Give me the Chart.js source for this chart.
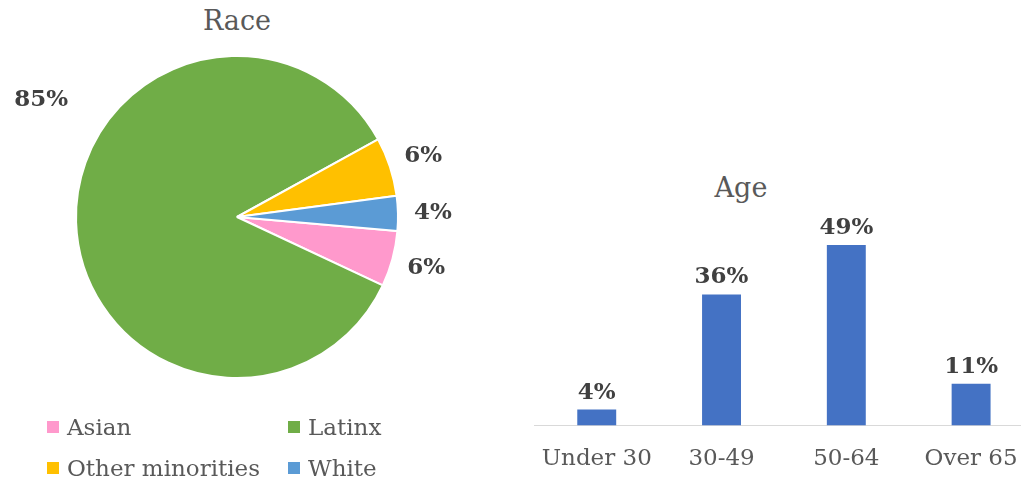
<!DOCTYPE html>
<html>
<head>
<meta charset="utf-8">
<script src="https://cdn.jsdelivr.net/npm/chart.js@4/dist/chart.umd.min.js"></script>
<style>
  html, body { margin: 0; padding: 0; background: #fff; }
  body { width: 1021px; height: 479px; position: relative; overflow: hidden; font-family: "DejaVu Serif", serif; }
  .title { position: absolute; font-size: 27px; line-height: 1; color: #595959; text-align: center; width: 200px; }
  #raceTitle { left: 137px; top: 7px; }
  #ageTitle { left: 641px; top: 174px; }
  #raceCanvas { position: absolute; left: 0; top: 0; }
  #ageCanvas { position: absolute; left: 520px; top: 162px; }
  #raceLegend { position: absolute; left: 47px; top: 406px; display: grid; grid-template-columns: 241px 241px; grid-auto-rows: 41px; }
  .item { display: flex; align-items: center; font-size: 23px; color: #595959; white-space: nowrap; }
  .swatch { width: 12px; height: 12px; margin-right: 8px; flex: none; }
</style>
</head>
<body>
<div class="title" id="raceTitle">Race</div>
<div class="title" id="ageTitle">Age</div>
<canvas id="raceCanvas" width="474" height="400"></canvas>
<canvas id="ageCanvas" width="520" height="331"></canvas>
<div id="raceLegend"></div>

<script>
/* =========================
   DATA
========================= */

const raceLabels = ["Asian", "Latinx", "Other minorities", "White"];
const raceValues = [5.6, 85.0, 5.9, 3.5];
const raceColors = ["#FF99CC", "#70AD47", "#FFC000", "#5B9BD5"];

const ageLabels = ["Under 30", "30-49", "50-64", "Over 65"];
const ageValues = [4.3, 35.5, 48.9, 11.3];
const ageColor = "#4472C4";

// Excel moved the big label off its slice ("best fit"), the rest sit just outside
const raceLabelShift = [0, 32.7, 0, 0];   // degrees
const raceLabelGap = [35, 67, 35, 35];    // px beyond radius

const FONT = "DejaVu Serif";
const LABEL_COLOR = "#404040";

/* =========================
   PIE LABELS
========================= */

const pieLabelPlugin = {
  id: "pieLabels",
  afterDatasetsDraw(chart) {
    const ctx = chart.ctx;
    const meta = chart.getDatasetMeta(0);
    ctx.save();
    ctx.font = "bold 23px '" + FONT + "'";
    ctx.fillStyle = LABEL_COLOR;
    ctx.textAlign = "center";
    ctx.textBaseline = "middle";
    meta.data.forEach((arc, i) => {
      const mid = (arc.startAngle + arc.endAngle) / 2 + raceLabelShift[i] * Math.PI / 180;
      const r = arc.outerRadius + raceLabelGap[i];
      const x = arc.x + Math.cos(mid) * r;
      const y = arc.y + Math.sin(mid) * r;
      ctx.fillText(Math.round(raceValues[i]) + "%", x, y);
    });
    ctx.restore();
  }
};

/* =========================
   BAR LABELS
========================= */

const barLabelPlugin = {
  id: "barLabels",
  afterDatasetsDraw(chart) {
    const ctx = chart.ctx;
    const meta = chart.getDatasetMeta(0);
    ctx.save();
    ctx.font = "bold 23px '" + FONT + "'";
    ctx.fillStyle = LABEL_COLOR;
    ctx.textAlign = "center";
    ctx.textBaseline = "middle";
    meta.data.forEach((bar, i) => {
      ctx.fillText(Math.round(ageValues[i]) + "%", bar.x, bar.y - 17);
    });
    ctx.restore();
  }
};

/* =========================
   CHARTS
========================= */

new Chart(document.getElementById("raceCanvas"), {
  type: "pie",
  data: {
    labels: raceLabels,
    datasets: [{
      data: raceValues,
      backgroundColor: raceColors,
      borderColor: "#ffffff",
      borderWidth: 2
    }]
  },
  options: {
    responsive: false,
    animation: false,
    rotation: 95,
    layout: { padding: { left: 75, right: 75, top: 55, bottom: 21 } },
    plugins: {
      legend: { display: false },
      tooltip: { enabled: false }
    }
  },
  plugins: [pieLabelPlugin]
});

new Chart(document.getElementById("ageCanvas"), {
  type: "bar",
  data: {
    labels: ageLabels,
    datasets: [{
      data: ageValues,
      backgroundColor: ageColor,
      categoryPercentage: 1,
      barPercentage: 0.312
    }]
  },
  options: {
    responsive: false,
    animation: false,
    layout: { padding: { left: 13.5, right: 6.5, top: 42, bottom: 0 } },
    scales: {
      x: {
        grid: { display: false, drawTicks: false },
        border: { display: true, color: "#d9d9d9", width: 1 },
        ticks: { color: "#595959", padding: 20, font: { family: FONT, size: 23 } }
      },
      y: { display: false, min: 0, max: 60 }
    },
    plugins: {
      legend: { display: false },
      tooltip: { enabled: false }
    }
  },
  plugins: [barLabelPlugin]
});

/* =========================
   LEGEND (html)
========================= */

const legend = document.getElementById("raceLegend");
raceLabels.forEach((name, i) => {
  const item = document.createElement("div");
  item.className = "item";
  item.innerHTML = '<span class="swatch" style="background:' + raceColors[i] + '"></span>' + name;
  legend.appendChild(item);
});
</script>
</body>
</html>
